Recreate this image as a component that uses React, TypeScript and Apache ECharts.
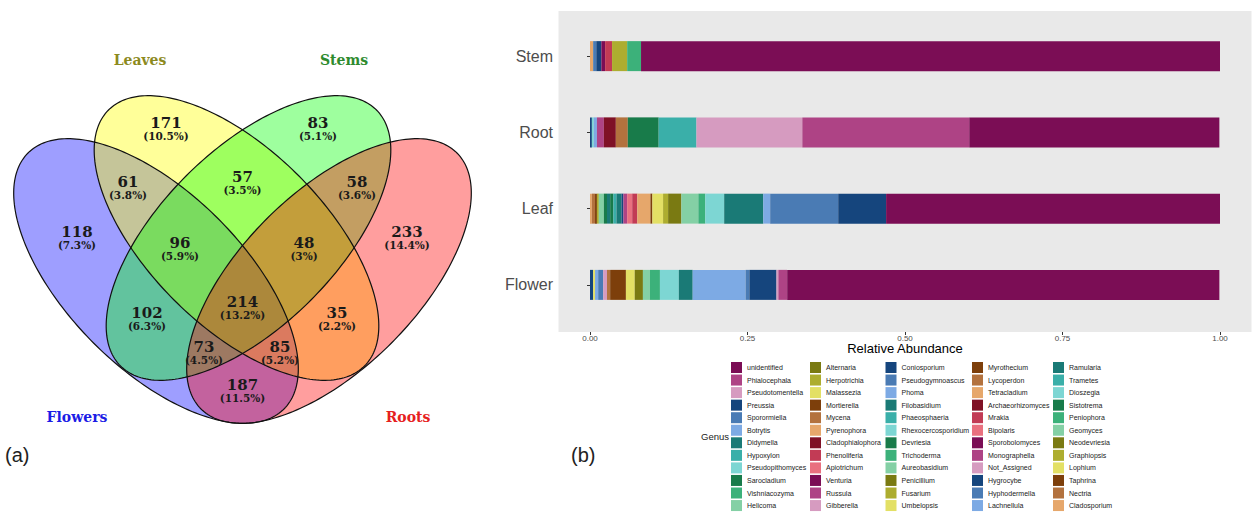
import React, { useEffect, useRef } from "react";
import * as echarts from "echarts";

// ---------------- DATA ----------------
// Venn diagram (a)
const vennSets = ["Flowers", "Leaves", "Stems", "Roots"];
const vennRegions = ["F", "L", "S", "R", "FL", "LS", "SR", "FLS", "LSR", "FS", "LR", "FLSR", "FSR", "FLR", "FR"];
const vennCounts = [118, 171, 83, 233, 61, 57, 58, 96, 48, 102, 35, 214, 73, 85, 187];
const vennPercents = ["7.3%", "10.5%", "5.1%", "14.4%", "3.8%", "3.5%", "3.6%", "5.9%", "3%", "6.3%", "2.2%", "13.2%", "4.5%", "5.2%", "11.5%"];

// Stacked bars (b)
const organs = ["Flower", "Leaf", "Root", "Stem"];
const xTicks = [0, 0.25, 0.5, 0.75, 1];
const genera = [
  "unidentified", "Phialocephala", "Pseudotomentella", "Preussia", "Sporormiella", "Botrytis",
  "Didymella", "Hypoxylon", "Pseudopithomyces", "Sarocladium", "Vishniacozyma", "Helicoma",
  "Alternaria", "Herpotrichia", "Malassezia", "Mortierella", "Mycena", "Pyrenophora",
  "Cladophialophora", "Phenoliferia", "Apiotrichum", "Venturia", "Russula", "Gibberella",
  "Coniosporium", "Pseudogymnoascus", "Phoma", "Filobasidium", "Phaeosphaeria", "Rhexocercosporidium",
  "Devriesia", "Trichoderma", "Aureobasidium", "Penicillium", "Fusarium", "Umbelopsis",
  "Myrothecium", "Lycoperdon", "Tetracladium", "Archaeorhizomyces", "Mrakia", "Bipolaris",
  "Sporobolomyces", "Monographella", "Not_Assigned", "Hygrocybe", "Hyphodermella", "Lachnellula",
  "Ramularia", "Trametes", "Dioszegia", "Sistotrema", "Peniophora", "Geomyces",
  "Neodevriesia", "Graphiopsis", "Lophium", "Taphrina", "Nectria", "Cladosporium",
];
const flowerAbund = [
  0.686, 0.014, 0.003, 0.043, 0.006, 0.084, 0.022, 0, 0.030, 0, 0.016, 0.011,
  0.013, 0, 0.014, 0.025, 0.005, 0, 0, 0, 0, 0, 0, 0.006,
  0, 0.008, 0.005, 0, 0, 0, 0, 0, 0, 0, 0, 0.003,
  0, 0, 0, 0, 0, 0, 0, 0, 0, 0.005, 0, 0,
  0, 0, 0, 0, 0, 0, 0, 0, 0, 0, 0, 0,
];
const leafAbund = [
  0.530, 0, 0, 0.076, 0.108, 0.011, 0.062, 0, 0.030, 0, 0.011, 0.027,
  0.021, 0.008, 0.017, 0.003, 0, 0.021, 0, 0.008, 0.008, 0, 0.006, 0,
  0.003, 0, 0, 0.008, 0.005, 0, 0.005, 0, 0, 0, 0, 0,
  0, 0, 0, 0, 0, 0, 0, 0, 0, 0, 0, 0,
  0.005, 0, 0, 0.005, 0, 0.008, 0, 0.003, 0, 0.003, 0.005, 0.003,
];
const rootAbund = [
  0.397, 0.265, 0.168, 0, 0, 0, 0, 0.060, 0, 0.049, 0, 0,
  0, 0, 0, 0, 0.019, 0, 0.019, 0, 0, 0, 0.011, 0,
  0, 0, 0.005, 0, 0, 0.003, 0, 0, 0, 0, 0, 0,
  0, 0, 0, 0, 0, 0, 0, 0, 0, 0.003, 0, 0,
  0, 0, 0, 0, 0, 0, 0, 0, 0, 0, 0, 0,
];
const stemAbund = [
  0.919, 0, 0, 0, 0, 0, 0, 0, 0, 0, 0.022, 0,
  0, 0.024, 0, 0, 0, 0, 0, 0.011, 0, 0, 0, 0,
  0, 0, 0, 0, 0, 0, 0, 0, 0, 0, 0, 0,
  0, 0, 0, 0, 0, 0, 0.006, 0, 0, 0.008, 0.005, 0,
  0, 0, 0, 0, 0, 0, 0, 0, 0, 0, 0, 0.005,
];

// ---------------- STYLE / LAYOUT ----------------
const PALETTE = [
  "#7B0D55", "#AE4385", "#D69BC0",
  "#15457D", "#4A7BB4", "#7DAAE4",
  "#1A7A76", "#3AAFA9", "#7DD6D3",
  "#187B4A", "#3CB17A", "#84D0A5",
  "#7A7A12", "#ADAD2F", "#E3E065",
  "#7D3F0B", "#B3723E", "#E6A76B",
  "#7F1126", "#C23B55", "#E9707F",
];
const VENN_FILLS = ["rgba(0,0,255,0.38)", "rgba(255,255,0,0.4)", "rgba(0,255,0,0.38)", "rgba(255,0,0,0.38)"];
const VENN_NAME_COLORS = ["#1c1ce6", "#8c8a1e", "#2e8b2e", "#e62020"];
const VENN_ELLIPSES = [
  { cx: 156, cy: 281, rot: 45 },
  { cx: 236.5, cy: 238, rot: 45 },
  { cx: 248.5, cy: 238, rot: -45 },
  { cx: 329, cy: 281, rot: -45 },
];
const VENN_A = 181;
const VENN_B = 88;
const VENN_COUNT_POS = [
  [77, 232], [166, 123], [318, 123], [407, 232], [128, 182], [242.5, 177], [357, 182],
  [180, 243], [304, 243], [147, 313], [337, 313], [242.5, 302], [204, 347], [280, 347], [242.5, 385],
];
const VENN_NAME_POS = [[77, 417], [140, 60], [344, 60], [408, 417]];
const LEGEND_COLS = [731, 810, 885.5, 972, 1053];
const SERIF = '"DejaVu Serif", serif';

function txt(text: string, x: number, y: number, font: string, fill: string, align = "center") {
  return {
    type: "text",
    x,
    y,
    silent: true,
    style: {
      text,
      font,
      fill,
      align,
      textAlign: align,
      verticalAlign: "middle",
      textVerticalAlign: "middle",
    },
  };
}

export default function App() {
  const ref = useRef<HTMLDivElement>(null);
  useEffect(() => {
    if (!ref.current) return;
    const chart = echarts.init(ref.current, null, { renderer: "svg" });

    const ellipsePoints = (i: number, api: any) => {
      const e = VENN_ELLIPSES[i];
      const th = (e.rot * Math.PI) / 180;
      const pts: number[][] = [];
      const N = 240;
      for (let k = 0; k < N; k++) {
        const t = (k / N) * 2 * Math.PI;
        const x = e.cx + VENN_A * Math.cos(t) * Math.cos(th) - VENN_B * Math.sin(t) * Math.sin(th);
        const y = e.cy + VENN_A * Math.cos(t) * Math.sin(th) + VENN_B * Math.sin(t) * Math.cos(th);
        pts.push(api.coord([x, y]));
      }
      return pts;
    };

    const barSeries: any[] = [];
    for (let i = genera.length - 1; i >= 0; i--) {
      barSeries.push({
        type: "bar",
        name: genera[i],
        stack: "total",
        xAxisIndex: 0,
        yAxisIndex: 0,
        barWidth: 30,
        itemStyle: { color: PALETTE[i % PALETTE.length] },
        data: [flowerAbund[i], leafAbund[i], rootAbund[i], stemAbund[i]],
        silent: true,
      });
    }

    const legends = LEGEND_COLS.map((left, c) => ({
      orient: "vertical",
      left,
      top: 362,
      padding: 0,
      itemWidth: 11,
      itemHeight: 11,
      itemGap: 1.55,
      icon: "rect",
      selectedMode: false,
      textStyle: { fontSize: 7, color: "#222", fontFamily: "Liberation Sans" },
      data: genera.slice(c * 12, c * 12 + 12),
    }));

    const graphic: any[] = [
      {
        type: "rect",
        z: -1,
        silent: true,
        shape: { x: 558.5, y: 11, width: 693, height: 321 },
        style: { fill: "#e9e9e9" },
      },
      txt("(a)", 5, 455, '20px "Liberation Sans"', "#222", "left"),
      txt("(b)", 571, 455, '20px "Liberation Sans"', "#222", "left"),
      txt("Genus", 701, 436, '9.5px "Liberation Sans"', "#222", "left"),
      ...vennSets.map((s, i) =>
        txt(s, VENN_NAME_POS[i][0], VENN_NAME_POS[i][1], `bold 14px ${SERIF}`, VENN_NAME_COLORS[i])
      ),
    ];

    chart.setOption({
      animation: false,
      textStyle: { fontFamily: "Liberation Sans" },
      grid: [
        { left: 590, top: 18, width: 630, height: 305 },
        { left: 0, top: 0, width: 485, height: 514 },
      ],
      xAxis: [
        {
          type: "value",
          gridIndex: 0,
          min: 0,
          max: 1,
          interval: 0.25,
          offset: 9,
          axisLine: { show: false },
          axisTick: { show: true, length: 3, lineStyle: { color: "#333" } },
          splitLine: { show: false },
          axisLabel: {
            fontSize: 8,
            color: "#4d4d4d",
            margin: 2,
            formatter: (v: number) => (xTicks.includes(v) ? v.toFixed(2) : ""),
          },
          name: "Relative Abundance",
          nameLocation: "middle",
          nameGap: 10,
          nameMoveOverlap: false,
          nameTextStyle: { fontSize: 13, color: "#000" },
        },
        { type: "value", gridIndex: 1, min: 0, max: 485, show: false },
      ],
      yAxis: [
        {
          type: "category",
          gridIndex: 0,
          data: organs,
          offset: 32,
          axisLine: { show: false },
          axisTick: { show: true, length: 3, alignWithLabel: true, lineStyle: { color: "#333" } },
          axisLabel: { fontSize: 16, color: "#4d4d4d", margin: 5 },
          splitLine: { show: false },
        },
        { type: "value", gridIndex: 1, min: 0, max: 514, inverse: true, show: false },
      ],
      legend: legends,
      graphic,
      series: [
        {
          type: "custom",
          name: "venn-fill",
          xAxisIndex: 1,
          yAxisIndex: 1,
          silent: true,
          z: 1,
          data: VENN_ELLIPSES.map((e, i) => [e.cx, e.cy, i]),
          renderItem: (params: any, api: any) => {
            const i = api.value(2);
            return {
              type: "polygon",
              shape: { points: ellipsePoints(i, api) },
              style: { fill: VENN_FILLS[i], stroke: null },
            };
          },
        },
        {
          type: "custom",
          name: "venn-outline",
          xAxisIndex: 1,
          yAxisIndex: 1,
          silent: true,
          z: 2,
          data: VENN_ELLIPSES.map((e, i) => [e.cx, e.cy, i]),
          renderItem: (params: any, api: any) => {
            const i = api.value(2);
            return {
              type: "polygon",
              shape: { points: ellipsePoints(i, api) },
              style: { fill: "none", stroke: "#111", lineWidth: 1.2 },
            };
          },
        },
        {
          type: "custom",
          name: "venn-labels",
          xAxisIndex: 1,
          yAxisIndex: 1,
          silent: true,
          z: 3,
          data: vennCounts.map((c, i) => [VENN_COUNT_POS[i][0], VENN_COUNT_POS[i][1], c, i]),
          renderItem: (params: any, api: any) => {
            const p = api.coord([api.value(0), api.value(1)]);
            const i = api.value(3);
            return {
              type: "group",
              children: [
                txt(String(api.value(2)), p[0], p[1], `bold 15px ${SERIF}`, "#1a1a1a"),
                txt(`(${vennPercents[i]})`, p[0], p[1] + 12.5, `bold 10.5px ${SERIF}`, "#1a1a1a"),
              ],
            };
          },
        },
        ...barSeries,
      ],
    });
    return () => chart.dispose();
  }, []);
  return (
    <div
      ref={ref}
      style={{ position: "absolute", left: 0, top: 0, width: 1254, height: 514, background: "#fff" }}
    />
  );
}
